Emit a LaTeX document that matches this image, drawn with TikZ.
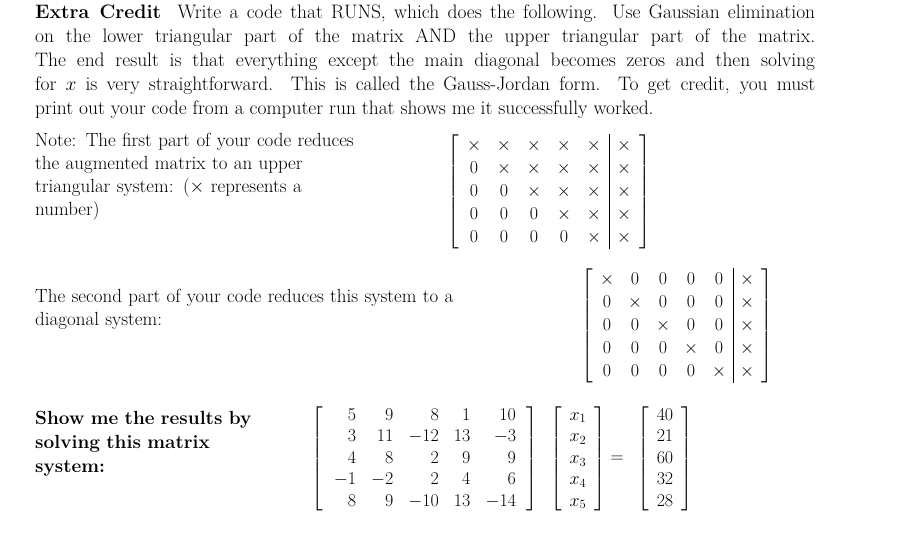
\RequirePackage{fix-cm}
\documentclass[tikz,border=0pt]{standalone}
\usepackage{amsmath}
\begin{document}
\begin{tikzpicture}[x=1pt,y=-1pt,
  txt/.style={anchor=north west,inner sep=0pt,align=justify,font=\fontsize{19.5}{24}\selectfont},
  mat/.style={inner sep=0pt,font=\fontsize{18}{23}\selectfont}]
\useasboundingbox (0,0) rectangle (911,545);
\node[txt,text width=780pt] (p1) at (35,5) {\textbf{Extra Credit}\ \ Write a code that RUNS, which does the following. Use Gaussian elimination\linebreak on the lower triangular part of the matrix AND the upper triangular part of the matrix.\linebreak The end result is that everything except the main diagonal becomes zeros and then solving\linebreak for $x$ is very straightforward. This is called the Gauss-Jordan form. To get credit, you must\linebreak print out your code from a computer run that shows me it successfully worked.};
\node[txt,text width=360pt,align=left,font=\fontsize{19}{23}\selectfont] (p2) at (35,133) {Note: The first part of your code reduces\\ the augmented matrix to an upper\\ triangular system: ($\times$ represents a\\ number)};
\node[mat] (m1) at (549,192) {$\renewcommand{\arraystretch}{1.0}\setlength{\arraycolsep}{8pt}\left[\begin{array}{ccccc|c}
\times&\times&\times&\times&\times&\times\\
0&\times&\times&\times&\times&\times\\
0&0&\times&\times&\times&\times\\
0&0&0&\times&\times&\times\\
0&0&0&0&\times&\times
\end{array}\right]$};
\node[txt,text width=500pt,align=left,font=\fontsize{19}{23}\selectfont] (p3) at (35,289) {The second part of your code reduces this system to a\\ diagonal system:};
\node[mat] (m2) at (677,326) {$\renewcommand{\arraystretch}{1.0}\setlength{\arraycolsep}{7pt}\left[\begin{array}{ccccc|c}
\times&0&0&0&0&\times\\
0&\times&0&0&0&\times\\
0&0&\times&0&0&\times\\
0&0&0&\times&0&\times\\
0&0&0&0&\times&\times
\end{array}\right]$};
\node[txt,text width=260pt,align=left,font=\bfseries\fontsize{19}{24}\selectfont] (p4) at (35,411) {Show me the results by\\ solving this matrix\\ system:};
\node[mat,font=\fontsize{18}{21.5}\selectfont] (A) at (425,459) {$\renewcommand{\arraystretch}{1.0}\setlength{\arraycolsep}{7.5pt}\left[\,\begin{array}{rrrrr}
5&9&8&1&10\\
3&11&-12&13&-3\\
4&8&2&9&9\\
-1&-2&2&4&6\\
8&9&-10&13&-14
\end{array}\,\right]$};
\node[mat,font=\fontsize{18}{21.5}\selectfont] (X) at (578,459) {$\renewcommand{\arraystretch}{1.0}\left[\,\begin{array}{c}
x_1\\x_2\\x_3\\x_4\\x_5
\end{array}\,\right]$};
\node[mat,font=\fontsize{18}{21.5}\selectfont] (eq) at (617,459) {$=$};
\node[mat,font=\fontsize{18}{21.5}\selectfont] (B) at (665,459) {$\renewcommand{\arraystretch}{1.0}\left[\,\begin{array}{c}
40\\21\\60\\32\\28
\end{array}\,\right]$};
\end{tikzpicture}
\end{document}
